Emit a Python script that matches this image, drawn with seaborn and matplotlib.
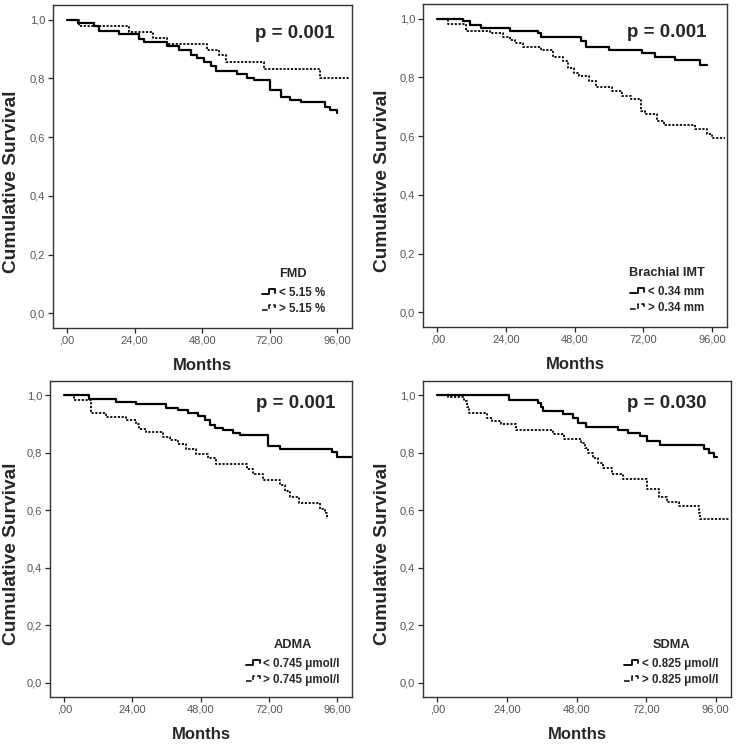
import matplotlib
matplotlib.use("Agg")
import matplotlib.pyplot as plt
import seaborn as sns
from matplotlib.lines import Line2D
from matplotlib.legend_handler import HandlerBase

# Kaplan-Meier Kurven, Zeit in Monaten
fmd_low_t = [0, 3.8, 9.5, 11.5, 18.4, 25.5, 27.3, 35.7, 39.7, 44, 46.3, 48.6, 51, 52.8, 60.5, 64, 66.3, 72.3, 75.9, 79.4, 83, 91.8, 93.6, 96]
fmd_low_s = [1.0, 0.990, 0.980, 0.961, 0.950, 0.935, 0.923, 0.912, 0.896, 0.881, 0.870, 0.855, 0.841, 0.826, 0.816, 0.801, 0.793, 0.761, 0.738, 0.727, 0.718, 0.704, 0.692, 0.681]
fmd_high_t = [0, 4.3, 22, 30.4, 35.7, 49.9, 53.9, 56.4, 69.9, 90, 100.5]
fmd_high_s = [1.0, 0.980, 0.959, 0.938, 0.918, 0.898, 0.881, 0.855, 0.832, 0.803, 0.803]

imt_low_t = [0, 9.0, 11.4, 15.4, 25.3, 35.1, 36.3, 50.2, 52, 60, 71.6, 76.2, 83.2, 91.9, 94.2]
imt_low_s = [1.0, 0.991, 0.980, 0.969, 0.959, 0.950, 0.936, 0.924, 0.905, 0.894, 0.883, 0.871, 0.860, 0.843, 0.843]
imt_high_t = [0, 3.8, 10.2, 18.3, 23, 25.3, 27, 29.9, 36.3, 40.4, 43.8, 45.6, 47.9, 49.6, 53.1, 55.4, 61.2, 64.7, 67.6, 71.1, 72.8, 76.9, 79.2, 90.2, 94.2, 96, 100.6]
imt_high_s = [1.0, 0.983, 0.959, 0.950, 0.939, 0.927, 0.916, 0.905, 0.894, 0.871, 0.855, 0.832, 0.815, 0.804, 0.788, 0.767, 0.754, 0.737, 0.726, 0.687, 0.676, 0.653, 0.639, 0.625, 0.608, 0.592, 0.592]

adma_low_t = [0, 8.8, 18.3, 25.3, 35.9, 40, 43.6, 47.1, 49.5, 51.2, 53, 55.9, 59.5, 61.8, 71.9, 76, 94.2, 96, 101]
adma_low_s = [1.0, 0.989, 0.977, 0.971, 0.957, 0.948, 0.939, 0.927, 0.913, 0.898, 0.888, 0.878, 0.870, 0.861, 0.822, 0.813, 0.802, 0.786, 0.786]
adma_high_t = [0, 3.5, 9.4, 14.7, 21.8, 25.3, 26.5, 28.9, 34.7, 37.1, 40, 43, 46.5, 50.6, 53.6, 64.2, 66.6, 70.1, 76, 77.7, 79.5, 82.5, 90.1, 91.9, 92.5]
adma_high_s = [1.0, 0.985, 0.94, 0.925, 0.913, 0.901, 0.884, 0.872, 0.855, 0.843, 0.832, 0.815, 0.795, 0.783, 0.760, 0.745, 0.728, 0.707, 0.687, 0.667, 0.647, 0.624, 0.606, 0.589, 0.57]

sdma_low_t = [0, 24.7, 34.6, 35.7, 36.5, 43.3, 46.7, 48.5, 51.4, 62.4, 65.8, 69.9, 72.2, 76.8, 91.9, 93.7, 95.4, 96.6]
sdma_low_s = [1.0, 0.985, 0.975, 0.960, 0.946, 0.934, 0.922, 0.904, 0.889, 0.881, 0.869, 0.857, 0.840, 0.826, 0.814, 0.799, 0.787, 0.787]
sdma_high_t = [0, 3.8, 9.0, 10.2, 10.8, 17.2, 18.9, 21.8, 27, 39.7, 43.8, 49.6, 50.8, 51.9, 53.7, 55.4, 57.2, 60.1, 64.1, 72.2, 76.3, 79.2, 83.2, 90.2, 90.7, 100.9]
sdma_high_s = [1.0, 0.993, 0.981, 0.958, 0.937, 0.922, 0.910, 0.899, 0.881, 0.864, 0.849, 0.834, 0.816, 0.799, 0.781, 0.763, 0.746, 0.728, 0.710, 0.675, 0.645, 0.628, 0.616, 0.592, 0.569, 0.569]

titles = ["FMD", "Brachial IMT", "ADMA", "SDMA"]
p_values = ["p = 0.001", "p = 0.001", "p = 0.001", "p = 0.030"]
labels_low = ["< 5.15 %", "< 0.34 mm", "< 0.745 μmol/l", "< 0.825 μmol/l"]
labels_high = ["> 5.15 %", "> 0.34 mm", "> 0.745 μmol/l", "> 0.825 μmol/l"]
x_ticks = [0, 24, 48, 72, 96]
x_ticklabels = [",00", "24,00", "48,00", "72,00", "96,00"]
y_ticks = [0, 0.2, 0.4, 0.6, 0.8, 1.0]
y_ticklabels = ["0,0", "0,2", "0,4", "0,6", "0,8", "1,0"]

curves = [
    (fmd_low_t, fmd_low_s, fmd_high_t, fmd_high_s),
    (imt_low_t, imt_low_s, imt_high_t, imt_high_s),
    (adma_low_t, adma_low_s, adma_high_t, adma_high_s),
    (sdma_low_t, sdma_low_s, sdma_high_t, sdma_high_s),
]

sns.set_style("ticks")
plt.rcParams['font.family'] = ['Liberation Sans', 'DejaVu Sans']

DOTS = (0, (1.2, 0.9))


class StepHandler(HandlerBase):
    # kleines SPSS-artiges Stufensymbol in der Legende
    def create_artists(self, legend, orig_handle, xdescent, ydescent,
                       width, height, fontsize, trans):
        xs = [0, 0.45, 0.45, 0.85, 0.85]
        ys = [0.25, 0.25, 0.85, 0.85, 0.45]
        ln = Line2D([x * width - xdescent for x in xs],
                    [y * height - ydescent for y in ys],
                    color="black", lw=orig_handle.get_linewidth(),
                    linestyle=orig_handle.get_linestyle(), transform=trans)
        return [ln]


W, H = 736, 746
# (links, rechts, oben, unten) in Pixeln
boxes = [(53, 352, 5, 328), (423, 727, 4, 327), (50, 352, 381, 697), (423, 731, 381, 697)]
leg_anchor = [(0.91, 0.04), (0.928, 0.04), (0.96, 0.036), (0.958, 0.036)]
p_pos = [(0.943, 0.913), (0.934, 0.913), (0.944, 0.93), (0.922, 0.93)]
ylab_px = [20, 391, 20, 391]

fig = plt.figure(figsize=(W / 100, H / 100), dpi=100)

for i, (lt, ls, ht, hs) in enumerate(curves):
    l, r, t, b = boxes[i]
    ax = fig.add_axes([l / W, 1 - b / H, (r - l) / W, (b - t) / H])
    sns.lineplot(x=lt, y=ls, ax=ax, color="black", lw=1.6,
                 drawstyle="steps-post", estimator=None, errorbar=None)
    sns.lineplot(x=ht, y=hs, ax=ax, color="black", lw=1.3, linestyle=DOTS,
                 drawstyle="steps-post", estimator=None, errorbar=None)

    ax.set_xlim(-5, 101.3)
    ax.set_ylim(-0.05, 1.05)
    ax.set_xticks(x_ticks)
    ax.set_xticklabels(x_ticklabels)
    ax.set_yticks(y_ticks)
    ax.set_yticklabels(y_ticklabels)
    ax.tick_params(length=3.5, width=0.9, pad=2, labelsize=8, colors="#222222",
                   labelcolor="#555555")
    for sp in ax.spines.values():
        sp.set_visible(True)
        sp.set_color("#333333")
        sp.set_linewidth(1.0)

    ax.set_xlabel("Months", fontsize=12, fontweight="bold", labelpad=9)
    ax.set_ylabel("Cumulative Survival", fontsize=13.8, fontweight="bold")
    ax.yaxis.set_label_coords((ylab_px[i] - l) / (r - l), 0.5 - 15 / (b - t))

    px, py = p_pos[i]
    ax.text(px, py, p_values[i], transform=ax.transAxes, ha="right", va="center",
            fontsize=13.5, fontweight="bold")

    h_low = Line2D([], [], color="black", lw=1.3)
    h_high = Line2D([], [], color="black", lw=1.1, linestyle=DOTS)
    leg = ax.legend([h_low, h_high], [labels_low[i], labels_high[i]],
                    title=titles[i], loc="lower right", bbox_to_anchor=leg_anchor[i],
                    frameon=False, handler_map={Line2D: StepHandler()},
                    handlelength=1.4, handletextpad=0.1, labelspacing=0.33,
                    borderpad=0, borderaxespad=0,
                    prop={"size": 8.3, "weight": "bold"},
                    title_fontproperties={"size": 9.2, "weight": "bold"})
    leg._legend_box.align = "center"
    leg._legend_box.sep = 5

fig.savefig("out.png", dpi=100)
